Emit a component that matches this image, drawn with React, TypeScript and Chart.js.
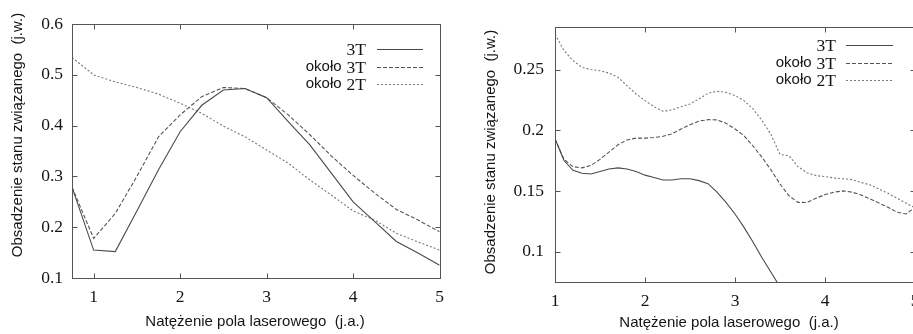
import React, { useEffect, useRef } from 'react';
import { Chart, registerables } from 'chart.js';
Chart.register(...registerables);

// ---------- data ----------
const seriesNames = ['3T', 'około 3T', 'około 2T'];

const leftX = [0.75, 1, 1.25, 1.5, 1.75, 2, 2.25, 2.5, 2.75, 3, 3.25, 3.5, 3.75, 4, 4.25, 4.5, 4.75, 5];
const leftSolid = [0.279, 0.155, 0.152, 0.232, 0.313, 0.388, 0.440, 0.470, 0.473, 0.455, 0.408, 0.362, 0.306, 0.250, 0.211, 0.172, 0.149, 0.125];
const leftDashed = [0.279, 0.178, 0.227, 0.300, 0.378, 0.421, 0.457, 0.475, 0.473, 0.455, 0.421, 0.382, 0.340, 0.302, 0.267, 0.235, 0.214, 0.191];
const leftDotted = [0.534, 0.500, 0.486, 0.475, 0.462, 0.444, 0.424, 0.399, 0.378, 0.352, 0.326, 0.293, 0.263, 0.232, 0.214, 0.188, 0.171, 0.155];
const leftXTicks = [1, 2, 3, 4, 5];
const leftYTicks = [0.1, 0.2, 0.3, 0.4, 0.5, 0.6];
const leftYTickLabels = ['0.1', '0.2', '0.3', '0.4', '0.5', '0.6'];

const rightX = [1.0, 1.1, 1.2, 1.3, 1.4, 1.5, 1.6, 1.7, 1.8, 1.9, 2.0, 2.1, 2.2, 2.3, 2.4, 2.5, 2.6, 2.7, 2.8, 2.9, 3.0,
  3.1, 3.2, 3.3, 3.4, 3.5, 3.6, 3.7, 3.8, 3.9, 4.0, 4.1, 4.2, 4.3, 4.4, 4.5, 4.6, 4.7, 4.8, 4.9, 5.0];
const rightSolid = [0.193, 0.175, 0.167, 0.1645, 0.164, 0.166, 0.168, 0.169, 0.168, 0.166, 0.163, 0.161, 0.159, 0.159, 0.160, 0.160,
  0.1585, 0.156, 0.149, 0.1405, 0.131, 0.120, 0.108, 0.095, 0.083, 0.071, 0.059];
const rightDashed = [0.193, 0.176, 0.170, 0.169, 0.171, 0.176, 0.182, 0.188, 0.192, 0.1935, 0.1935, 0.194, 0.195, 0.197, 0.201, 0.2045,
  0.2075, 0.2087, 0.2085, 0.2057, 0.201, 0.1955, 0.187, 0.1777, 0.1673, 0.1557, 0.146, 0.1406, 0.1405, 0.144, 0.147,
  0.149, 0.150, 0.149, 0.1467, 0.1434, 0.140, 0.1365, 0.1325, 0.131, 0.1365];
const rightDotted = [0.279, 0.2656, 0.2573, 0.2518, 0.250, 0.249, 0.247, 0.2436, 0.2367, 0.230, 0.2244, 0.2194, 0.2156, 0.2167, 0.2194,
  0.2216, 0.2258, 0.2304, 0.232, 0.2312, 0.2285, 0.2244, 0.2175, 0.208, 0.1965, 0.180, 0.179, 0.170, 0.165, 0.1626, 0.1618,
  0.1607, 0.160, 0.1593, 0.157, 0.155, 0.1516, 0.148, 0.144, 0.140, 0.136];
const rightXTicks = [1, 2, 3, 4, 5];
const rightYTicks = [0.1, 0.15, 0.2, 0.25];
const rightYTickLabels = ['0.1', '0.15', '0.2', '0.25'];

const xTitle = 'Natężenie pola laserowego  (j.a.)';
const yTitle = 'Obsadzenie stanu związanego  (j.w.)';

// ---------- styles ----------
const SERIF = '"Liberation Serif", "Times New Roman", serif';
const SANS = '"Liberation Sans", Arial, sans-serif';
const TEXT = '#151515';
const styles = [
  { color: '#4a4a4a', dash: [] as number[] },
  { color: '#555', dash: [4, 2] },
  { color: '#777', dash: [2, 2] },
];

const gnuFrame = {
  id: 'gnuFrame',
  afterDatasetsDraw(chart: any, _args: any, o: any) {
    const { ctx, chartArea: a, scales } = chart;
    ctx.save();
    ctx.strokeStyle = '#555';
    ctx.lineWidth = 1;
    ctx.setLineDash([]);
    const L = Math.round(a.left) + 0.5, R = Math.round(a.right) + 0.5;
    const T = Math.round(a.top) + 0.5, B = Math.round(a.bottom) + 0.5;
    ctx.strokeRect(L, T, R - L, B - T);
    const tl = 5;
    ctx.beginPath();
    scales.x.ticks.forEach((t: any) => {
      const px = Math.round(scales.x.getPixelForValue(t.value)) + 0.5;
      ctx.moveTo(px, B); ctx.lineTo(px, B - tl);
      ctx.moveTo(px, T); ctx.lineTo(px, T + tl);
    });
    scales.y.ticks.forEach((t: any) => {
      const py = Math.round(scales.y.getPixelForValue(t.value)) + 0.5;
      ctx.moveTo(L, py); ctx.lineTo(L + tl, py);
      ctx.moveTo(R, py); ctx.lineTo(R - tl, py);
    });
    ctx.stroke();

    // axis titles
    ctx.fillStyle = TEXT;
    ctx.font = `15px ${SANS}`;
    ctx.textAlign = 'center';
    ctx.textBaseline = 'middle';
    ctx.fillText(o.xTitle, o.xTitleX, o.xTitleY);
    ctx.save();
    ctx.translate(o.yTitleX, o.yTitleY);
    ctx.rotate(-Math.PI / 2);
    ctx.fillText(o.yTitle, 0, 0);
    ctx.restore();

    // legend
    chart.data.datasets.forEach((ds: any, i: number) => {
      const y = o.legendRows[i];
      const label: string = ds.label;
      const sp = label.lastIndexOf(' ');
      const sansPart = sp >= 0 ? label.slice(0, sp) : '';
      const serifPart = sp >= 0 ? label.slice(sp + 1) : label;
      ctx.textBaseline = 'middle';
      ctx.textAlign = 'right';
      ctx.font = `17.5px ${SERIF}`;
      ctx.fillText(serifPart, o.legendTextRight, y + 1);
      const w = ctx.measureText(serifPart).width;
      if (sansPart) {
        ctx.font = `15px ${SANS}`;
        ctx.fillText(sansPart, o.legendTextRight - w - 5, y);
      }
      ctx.beginPath();
      ctx.strokeStyle = ds.borderColor;
      ctx.lineWidth = 1;
      ctx.setLineDash(ds.borderDash || []);
      ctx.moveTo(o.legendLine[0], Math.round(y) + 0.5);
      ctx.lineTo(o.legendLine[1], Math.round(y) + 0.5);
      ctx.stroke();
    });
    ctx.restore();
  },
};

type PanelProps = {
  width: number;
  xs: number[];
  series: number[][];
  xMin: number; xMax: number; yMin: number; yMax: number;
  xTicks: number[]; yTicks: number[]; yTickLabels: string[];
  yAxisWidth: number; xAxisHeight: number; padTop: number; padRight: number;
  yTickPad: number;
  frame: any;
  left: number;
};

function Panel(p: PanelProps) {
  const ref = useRef<HTMLCanvasElement>(null);
  useEffect(() => {
    if (!ref.current) return;
    const datasets = p.series.map((vals, i) => ({
      label: seriesNames[i],
      data: vals.map((v, k) => ({ x: p.xs[k], y: v })),
      borderColor: styles[i].color,
      borderDash: styles[i].dash,
      borderWidth: 1.1,
      pointRadius: 0,
      fill: false,
      tension: 0,
    }));
    const chart = new Chart(ref.current, {
      type: 'line',
      data: { datasets },
      plugins: [gnuFrame],
      options: {
        responsive: false,
        animation: false,
        events: [],
        layout: { padding: { top: p.padTop, right: p.padRight, left: 0, bottom: 0 } },
        plugins: {
          legend: { display: false },
          tooltip: { enabled: false },
          gnuFrame: p.frame,
        } as any,
        scales: {
          x: {
            type: 'linear',
            min: p.xMin, max: p.xMax,
            grid: { display: false, drawTicks: false },
            border: { display: false },
            afterBuildTicks: (s: any) => { s.ticks = p.xTicks.map((v) => ({ value: v })); },
            afterFit: (s: any) => { s.height = p.xAxisHeight; },
            ticks: {
              font: { family: SERIF, size: 17.5 },
              color: TEXT,
              padding: 9,
              maxRotation: 0,
              autoSkip: false,
              callback: (v: any) => String(v),
            },
          },
          y: {
            type: 'linear',
            min: p.yMin, max: p.yMax,
            grid: { display: false, drawTicks: false },
            border: { display: false },
            afterBuildTicks: (s: any) => { s.ticks = p.yTicks.map((v) => ({ value: v })); },
            afterFit: (s: any) => { s.width = p.yAxisWidth; },
            ticks: {
              font: { family: SERIF, size: 17.5 },
              color: TEXT,
              padding: p.yTickPad,
              autoSkip: false,
              callback: (v: any) => {
                const k = p.yTicks.indexOf(v);
                return k >= 0 ? p.yTickLabels[k] : '';
              },
            },
          },
        },
      } as any,
    });
    return () => chart.destroy();
  }, []);
  return (
    <div style={{ position: 'absolute', left: p.left, top: 0, width: p.width, height: 334 }}>
      <canvas ref={ref} width={p.width} height={334} style={{ display: 'block' }} />
    </div>
  );
}

export default function App() {
  return (
    <div style={{ position: 'fixed', left: 0, top: 0, width: 913, height: 334, overflow: 'hidden', background: '#fff' }}>
      <Panel
        left={0}
        width={453}
        xs={leftX}
        series={[leftSolid, leftDashed, leftDotted]}
        xMin={0.75} xMax={5} yMin={0.1} yMax={0.6}
        xTicks={leftXTicks} yTicks={leftYTicks} yTickLabels={leftYTickLabels}
        yAxisWidth={72} xAxisHeight={56} padTop={24} padRight={11}
        yTickPad={9}
        frame={{
          xTitle, yTitle,
          xTitleX: 255, xTitleY: 322,
          yTitleX: 18, yTitleY: 135,
          legendTextRight: 366,
          legendLine: [377, 423],
          legendRows: [49, 67, 84],
        }}
      />
      <Panel
        left={453}
        width={480}
        xs={rightX}
        series={[rightSolid, rightDashed, rightDotted]}
        xMin={1} xMax={5} yMin={0.075} yMax={0.285}
        xTicks={rightXTicks} yTicks={rightYTicks} yTickLabels={rightYTickLabels}
        yAxisWidth={102} xAxisHeight={52} padTop={27} padRight={18}
        yTickPad={11}
        frame={{
          xTitle, yTitle,
          xTitleX: 276, xTitleY: 323,
          yTitleX: 38, yTitleY: 152,
          legendTextRight: 383,
          legendLine: [393, 440],
          legendRows: [45, 63, 80],
        }}
      />
    </div>
  );
}
